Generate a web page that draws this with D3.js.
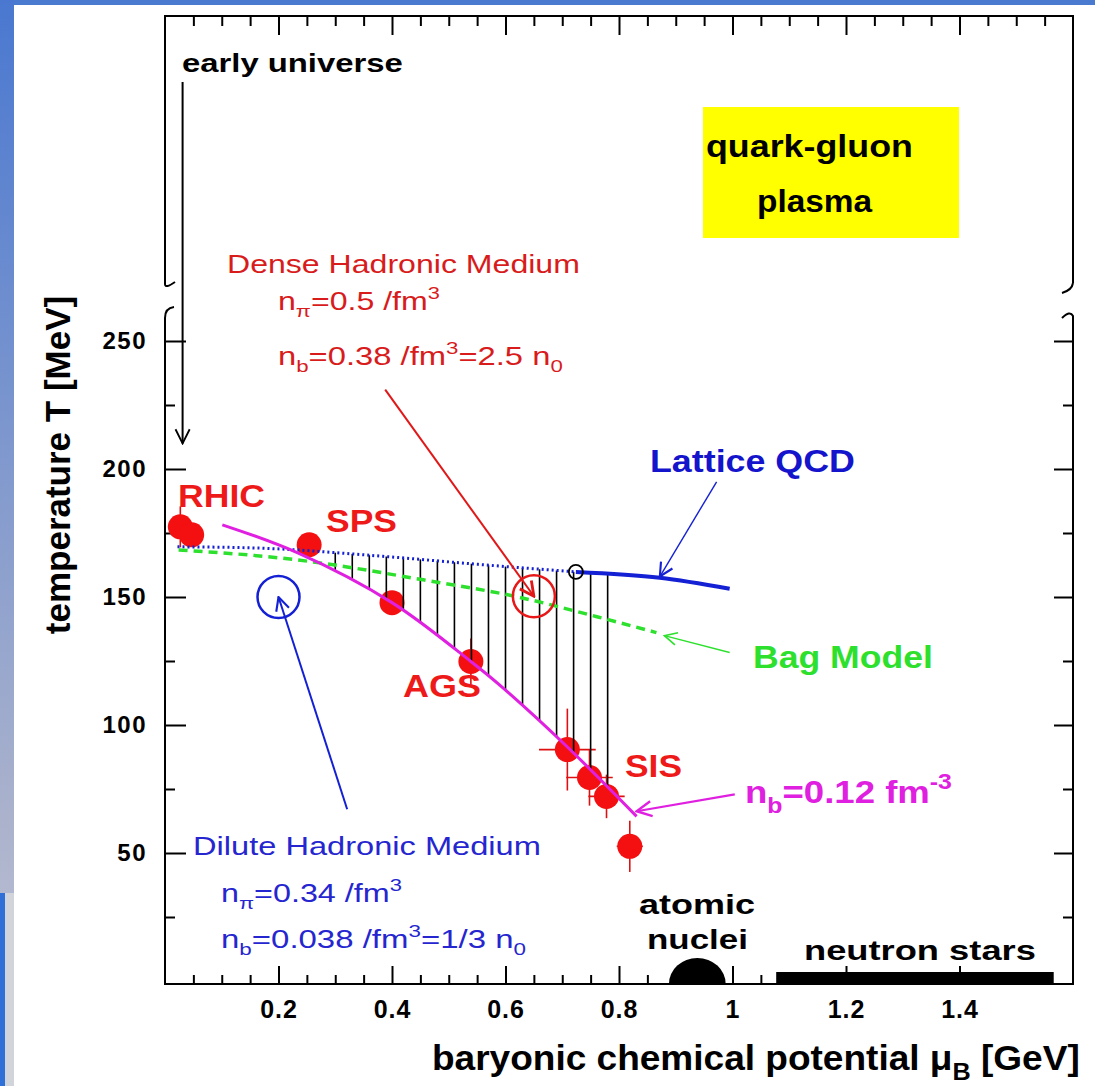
<!DOCTYPE html>
<html lang="en">
<head>
<meta charset="utf-8">
<title>QCD phase diagram</title>
<script src="https://cdn.jsdelivr.net/npm/d3@7"></script>
<style>
body { margin:0; background:#ffffff; }
svg { display:block; font-family:"Liberation Sans", Arial, Helvetica, sans-serif; }
</style>
</head>
<body>
<div id="chart"></div>
<script>
// ---- values ----
const xMajorTicks = [0.2, 0.4, 0.6, 0.8, 1, 1.2, 1.4];
const yMajorTicks = [50, 100, 150, 200, 250];
const yMinorTicks = [25, 75, 125, 175, 225];

// chemical freeze-out points (RHIC, SPS, AGS, SIS)
const freezeMu    = [0.027, 0.047, 0.254, 0.400, 0.539, 0.709, 0.748, 0.778, 0.819];
const freezeT     = [177.4, 174.3, 170.4, 147.8, 124.8, 90.4, 79.5, 72.1, 52.6];
const freezeMuErr = [0, 0, 0, 0, 0, 0.050, 0.041, 0.032, 0.023];
const freezeTErr  = [8, 0, 0, 0, 9, 16, 11, 8.5, 10];

// n_b = 0.12 fm^-3 curve
const nbMu = [0.101, 0.233, 0.400, 0.539, 0.595, 0.710, 0.831];
const nbT  = [178.2, 167.3, 147.8, 124.8, 114.6, 91.2, 64.3];

// lattice QCD boundary (dotted up to the critical point, solid after)
const latticeMu = [0.022, 0.152, 0.384, 0.560, 0.724, 0.872, 0.995];
const latticeT  = [169.6, 169.2, 165.9, 162.6, 159.8, 157.5, 153.2];
const criticalMu = 0.724, criticalT = 159.8;

// bag model boundary
const bagMu = [0.024, 0.233, 0.455, 0.620, 0.761, 0.866];
const bagT  = [168.4, 164.5, 156.7, 150.1, 142.3, 136.1];

// marked media
const denseMu = 0.650, denseT = 150.3;
const diluteMu = 0.200, diluteT = 150.0;
const nucleusMu = 0.938;
const neutronStarMu = [1.077, 1.566];

// ---- layout ----
const W = 1095, H = 1086;
const fLeft = 165, fRight = 1073, fTop = 16, fBottom = 984;
const red = "#f41010", textRed = "#d81c1c", blue = "#1420d4", green = "#2ee02e", magenta = "#e020e0";

const svg = d3.select("#chart").append("svg").attr("width", W).attr("height", H);
const defs = svg.append("defs");

// slide frame (blue border)
const grad = defs.append("linearGradient").attr("id", "side").attr("x1", 0).attr("x2", 0).attr("y1", 0).attr("y2", 1);
grad.append("stop").attr("offset", 0).attr("stop-color", "#4a78d0");
grad.append("stop").attr("offset", 0.75).attr("stop-color", "#aab2cc");
grad.append("stop").attr("offset", 1).attr("stop-color", "#c4c8d6");
svg.append("rect").attr("width", W).attr("height", H).attr("fill", "#fff");
svg.append("rect").attr("width", W).attr("height", 5).attr("fill", "#4a7acf");
svg.append("rect").attr("width", 14).attr("height", H).attr("fill", "url(#side)");
svg.append("rect").attr("y", 893).attr("width", 14).attr("height", H - 893).attr("fill", "#d2d4dc");
svg.append("rect").attr("y", 893).attr("width", 5).attr("height", H - 893).attr("fill", "#2f6fd8");

const x = d3.scaleLinear().domain([0, 1.6]).range([fLeft, fRight]);
const y = d3.scaleLinear().domain([0, 250]).range([981, 341]);

// ---- axes ----
const xMinor = d3.range(0.05, 1.58, 0.05).filter(v => !xMajorTicks.some(m => Math.abs(m - v) < 1e-6));
function styleAxis(g) {
  g.attr("font-size", null).attr("font-family", null);
  g.select(".domain").remove();
  g.selectAll("line").attr("stroke", "#000").attr("stroke-width", 2);
  g.selectAll("text").attr("font-weight", "bold").attr("fill", "#000");
}
svg.append("g").attr("transform", `translate(0,${fBottom})`)
  .call(d3.axisBottom(x).tickValues(xMajorTicks).tickSize(-18).tickPadding(16).tickFormat(d3.format("~g")))
  .call(styleAxis).selectAll("text").attr("font-size", 25).attr("letter-spacing", 1);
svg.append("g").attr("transform", `translate(0,${fBottom})`)
  .call(d3.axisBottom(x).tickValues(xMinor).tickSize(-9).tickFormat("")).call(styleAxis);
svg.append("g").attr("transform", `translate(0,${fTop})`)
  .call(d3.axisTop(x).tickValues(xMajorTicks).tickSize(-19).tickFormat("")).call(styleAxis);
svg.append("g").attr("transform", `translate(0,${fTop})`)
  .call(d3.axisTop(x).tickValues(xMinor).tickSize(-10).tickFormat("")).call(styleAxis);
svg.append("g").attr("transform", `translate(${fLeft},0)`)
  .call(d3.axisLeft(y).tickValues(yMajorTicks).tickSize(-21).tickPadding(18))
  .call(styleAxis).selectAll("text").attr("font-size", 24).attr("letter-spacing", 1.5);
svg.append("g").attr("transform", `translate(${fLeft},0)`)
  .call(d3.axisLeft(y).tickValues(yMinorTicks).tickSize(-10).tickFormat("")).call(styleAxis);
svg.append("g").attr("transform", `translate(${fRight},0)`)
  .call(d3.axisRight(y).tickValues(yMajorTicks).tickSize(-19).tickFormat("")).call(styleAxis);
svg.append("g").attr("transform", `translate(${fRight},0)`)
  .call(d3.axisRight(y).tickValues(yMinorTicks).tickSize(-10).tickFormat("")).call(styleAxis);

// frame with the broken temperature axis
const frame = svg.append("g").attr("fill", "none").attr("stroke", "#000").attr("stroke-width", 2);
frame.append("path").attr("d", `M${fLeft},284 L${fLeft},${fTop} L${fRight},${fTop} L${fRight},283`);
frame.append("path").attr("d", `M${fLeft},284 Q${fLeft},289 ${fLeft + 10},282`);
frame.append("path").attr("d", `M${fRight},283 Q${fRight - 1},290 ${fRight - 11},293`);
frame.append("path").attr("d", `M${fLeft + 9},307 Q${fLeft},308 ${fLeft},318 L${fLeft},${fBottom} L${fRight},${fBottom} L${fRight},316 Q${fRight - 3},310 ${fRight - 11},318`);

// ---- arrow heads ----
function marker(id, color, size, sw) {
  defs.append("marker").attr("id", id).attr("viewBox", "0 0 12 12").attr("refX", 11).attr("refY", 6)
    .attr("markerWidth", size).attr("markerHeight", size).attr("markerUnits", "userSpaceOnUse")
    .attr("orient", "auto")
    .append("path").attr("d", "M1,1 L11,6 L1,11").attr("fill", "none")
    .attr("stroke", color).attr("stroke-width", sw);
}
marker("ah-black", "#000", 17, 1.3);
marker("ah-red", "#e01818", 17, 2);
marker("ah-blue", blue, 16, 1.6);
marker("ah-green", green, 15, 1.3);
marker("ah-mag", magenta, 18, 1.6);

// ---- freeze-out points ----
const pts = d3.zip(freezeMu, freezeT, freezeMuErr, freezeTErr);
const errs = svg.append("g").attr("stroke", "#dd1111").attr("stroke-width", 1.6);
pts.forEach(([m, t, dm, dt]) => {
  if (dm > 0) errs.append("line").attr("x1", x(m - dm)).attr("x2", x(m + dm)).attr("y1", y(t)).attr("y2", y(t));
  if (dt > 0) errs.append("line").attr("x1", x(m)).attr("x2", x(m)).attr("y1", y(t - dt)).attr("y2", y(t + dt));
});
svg.append("g").selectAll("circle").data(pts).join("circle")
  .attr("cx", d => x(d[0])).attr("cy", d => y(d[1])).attr("r", 12.5).attr("fill", red);

// ---- hatched region between lattice boundary and n_b curve ----
const latticePts = d3.zip(latticeMu, latticeT);
const nbPts = d3.zip(nbMu, nbT);
const lineMono = d3.line().x(d => x(d[0])).y(d => y(d[1])).curve(d3.curveMonotoneX);
const lineCR = d3.line().x(d => x(d[0])).y(d => y(d[1])).curve(d3.curveCatmullRom);
const back = lineCR(nbPts.slice().reverse());
defs.append("clipPath").attr("id", "hatchClip").append("path")
  .attr("d", lineMono(latticePts) + "L" + back.slice(1) + "Z");
svg.append("g").attr("clip-path", "url(#hatchClip)").selectAll("line")
  .data(d3.range(0.30, 0.785, 0.03)).join("line")
  .attr("x1", d => x(d)).attr("x2", d => x(d)).attr("y1", y(200)).attr("y2", y(20))
  .attr("stroke", "#000").attr("stroke-width", 1.6);

// ---- boundary lines ----
svg.append("path").attr("d", lineMono(d3.zip(bagMu, bagT))).attr("fill", "none")
  .attr("stroke", green).attr("stroke-width", 3.5).attr("stroke-dasharray", "9 6");
const critIdx = latticeMu.indexOf(criticalMu);
svg.append("path").attr("d", lineMono(latticePts.slice(0, critIdx + 1))).attr("fill", "none")
  .attr("stroke", blue).attr("stroke-width", 3).attr("stroke-dasharray", "2 3");
svg.append("path").attr("d", lineMono(latticePts.slice(critIdx))).attr("fill", "none")
  .attr("stroke", blue).attr("stroke-width", 4);
svg.append("circle").attr("cx", x(criticalMu)).attr("cy", y(criticalT)).attr("r", 7)
  .attr("fill", "none").attr("stroke", "#000").attr("stroke-width", 1.8);
svg.append("path").attr("d", lineCR(nbPts)).attr("fill", "none")
  .attr("stroke", magenta).attr("stroke-width", 3);

// dense / dilute circles
svg.append("circle").attr("cx", x(denseMu)).attr("cy", y(denseT)).attr("r", 21)
  .attr("fill", "none").attr("stroke", "#e81818").attr("stroke-width", 2.5);
svg.append("circle").attr("cx", x(diluteMu)).attr("cy", y(diluteT)).attr("r", 21)
  .attr("fill", "none").attr("stroke", blue).attr("stroke-width", 2.5);

// atomic nuclei and neutron stars
const rx = x(nucleusMu + 0.05) - x(nucleusMu);
svg.append("path")
  .attr("d", `M${x(nucleusMu) - rx},${fBottom} A${rx},26 0 0 1 ${x(nucleusMu) + rx},${fBottom} Z`)
  .attr("fill", "#000");
svg.append("rect").attr("x", x(neutronStarMu[0])).attr("y", fBottom - 12)
  .attr("width", x(neutronStarMu[1]) - x(neutronStarMu[0])).attr("height", 13).attr("fill", "#000");

// ---- pointer arrows (data coordinates) ----
const arrows = [
  {from: [0.388, 231], to: [denseMu, denseT], color: "#e01818", w: 2, m: "ah-red"},
  {from: [0.321, 67.1], to: [diluteMu, diluteT], color: blue, w: 2, m: "ah-blue"},
  {from: [0.972, 195.0], to: [0.872, 158.0], color: blue, w: 1.4, m: "ah-blue"},
  {from: [0.995, 128.3], to: [0.880, 134.9], color: green, w: 1.4, m: "ah-green"},
  {from: [1.004, 72.9], to: [0.831, 66.3], color: magenta, w: 2.2, m: "ah-mag"}
];
svg.append("g").selectAll("line").data(arrows).join("line")
  .attr("x1", d => x(d.from[0])).attr("y1", d => y(d.from[1]))
  .attr("x2", d => x(d.to[0])).attr("y2", d => y(d.to[1]))
  .attr("stroke", d => d.color).attr("stroke-width", d => d.w)
  .attr("marker-end", d => `url(#${d.m})`);
// early universe arrow, from the upper part of the diagram
svg.append("line").attr("x1", x(0.031)).attr("x2", x(0.031)).attr("y1", 82).attr("y2", y(210))
  .attr("stroke", "#000").attr("stroke-width", 2).attr("marker-end", "url(#ah-black)");

// quark-gluon plasma box
svg.append("rect").attr("x", 703).attr("y", 107).attr("width", 256).attr("height", 131).attr("fill", "#ffff00");

// ---- text ----
function addText(parts, o) {
  const t = svg.append("text").attr("x", o.x).attr("y", o.y)
    .attr("font-size", o.size).attr("font-weight", o.bold ? "bold" : "normal")
    .attr("fill", o.color || "#000");
  let off = 0;
  parts.forEach(([s, k]) => {
    const target = k === "sub" ? 0.3 * o.size : k === "sup" ? -0.45 * o.size : 0;
    t.append("tspan").attr("dy", target - off)
      .attr("font-size", k ? o.size * 0.68 : o.size).text(s);
    off = target;
  });
  if (o.w) {
    const b = t.node().getBBox();
    const sx = o.w / b.width;
    t.attr("transform", `translate(${b.x},0) scale(${sx},1) translate(${-b.x},0)`);
  }
  return t;
}
const labels = [
  {p: [["early universe"]], x: 182, y: 72, size: 25, w: 221, bold: true},
  {p: [["quark-gluon"]], x: 706, y: 157, size: 31, w: 207, bold: true},
  {p: [["plasma"]], x: 757, y: 212, size: 31, w: 116, bold: true},
  {p: [["Dense Hadronic Medium"]], x: 227, y: 273, size: 25, w: 353, color: textRed},
  {p: [["n"], ["π", "sub"], ["=0.5 /fm"], ["3", "sup"]], x: 278, y: 310, size: 25, w: 162, color: textRed},
  {p: [["n"], ["b", "sub"], ["=0.38 /fm"], ["3", "sup"], ["=2.5 n"], ["0", "sub"]], x: 278, y: 365, size: 25, w: 285, color: textRed},
  {p: [["RHIC"]], x: 178, y: 507, size: 32, w: 87, bold: true, color: "#ee1a1a"},
  {p: [["SPS"]], x: 326, y: 532, size: 32, w: 71, bold: true, color: "#ee1a1a"},
  {p: [["AGS"]], x: 403, y: 697, size: 32, w: 78, bold: true, color: "#ee1a1a"},
  {p: [["SIS"]], x: 625, y: 777, size: 32, w: 57, bold: true, color: "#ee1a1a"},
  {p: [["Lattice QCD"]], x: 650, y: 472, size: 32, w: 205, bold: true, color: "#1414cc"},
  {p: [["Bag Model"]], x: 753, y: 668, size: 32, w: 180, bold: true, color: green},
  {p: [["n"], ["b", "sub"], ["=0.12 fm"], ["-3", "sup"]], x: 745, y: 803, size: 32, w: 207, bold: true, color: magenta},
  {p: [["Dilute Hadronic Medium"]], x: 193, y: 855, size: 25, w: 348, color: "#2626d0"},
  {p: [["n"], ["π", "sub"], ["=0.34 /fm"], ["3", "sup"]], x: 221, y: 902, size: 25, w: 181, color: "#2626d0"},
  {p: [["n"], ["b", "sub"], ["=0.038 /fm"], ["3", "sup"], ["=1/3 n"], ["0", "sub"]], x: 221, y: 948, size: 25, w: 305, color: "#2626d0"},
  {p: [["atomic"]], x: 639, y: 914, size: 28, w: 116, bold: true},
  {p: [["nuclei"]], x: 647, y: 949, size: 28, w: 101, bold: true},
  {p: [["neutron stars"]], x: 804, y: 960, size: 28, w: 232, bold: true},
  {p: [["baryonic chemical potential "], ["μ"], ["B", "sub"], [" [GeV]"]], x: 432, y: 1070, size: 35, w: 648, bold: true}
];
labels.forEach(l => addText(l.p, l));

// temperature axis title
svg.append("text").attr("transform", "translate(70,465) rotate(-90)")
  .attr("text-anchor", "middle").attr("font-size", 35).attr("font-weight", "bold")
  .text("temperature T [MeV]");
</script>
</body>
</html>
